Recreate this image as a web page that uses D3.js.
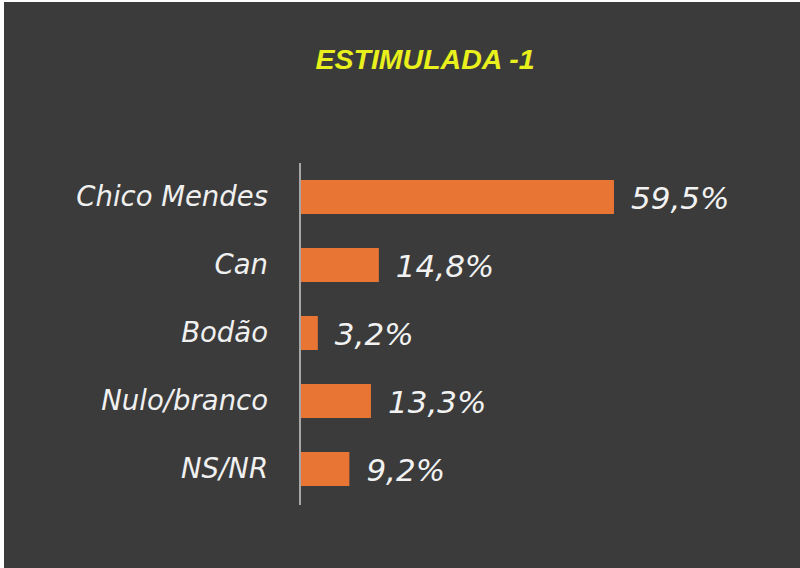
<!DOCTYPE html>
<html>
<head>
<meta charset="utf-8">
<script src="https://cdn.jsdelivr.net/npm/d3@7"></script>
<style>
  html, body { margin: 0; padding: 0; background: #ffffff; }
  svg { display: block; }
</style>
</head>
<body>
<script>
const categories = ["Chico Mendes", "Can", "Bodão", "Nulo/branco", "NS/NR"];
const values = [59.5, 14.8, 3.2, 13.3, 9.2];
const valueLabels = ["59,5%", "14,8%", "3,2%", "13,3%", "9,2%"];

const w = 800;
const h = 568;

const svg = d3.select("body")
    .append("svg")
    .attr("width", w)
    .attr("height", h);

// panel, with the thin light edge on top and left
svg.append("rect")
    .attr("x", 4).attr("y", 2)
    .attr("width", w - 4).attr("height", h - 2)
    .attr("fill", "#3b3b3b");

svg.append("text")
    .attr("x", 425)
    .attr("y", 69)
    .attr("text-anchor", "middle")
    .attr("fill", "#e9f01c")
    .style("font-family", "'Liberation Sans', Arial, sans-serif")
    .style("font-weight", "bold")
    .style("font-style", "italic")
    .style("font-size", "28.5px")
    .text("ESTIMULADA -1");

const xScale = d3.scaleLinear()
    .domain([0, 100])
    .range([301, 827]);

const yScale = d3.scaleBand()
    .domain(categories)
    .range([163, 503])
    .paddingInner(0.5)
    .paddingOuter(0.25);

const data = categories.map((c, i) => ({ name: c, value: values[i], label: valueLabels[i] }));

svg.selectAll("rect.bar")
    .data(data)
    .enter()
    .append("rect")
    .attr("class", "bar")
    .attr("x", xScale(0))
    .attr("y", d => yScale(d.name))
    .attr("width", d => xScale(d.value) - xScale(0))
    .attr("height", yScale.bandwidth())
    .attr("fill", "#e97534");

// category axis line
svg.append("line")
    .attr("x1", 300).attr("x2", 300)
    .attr("y1", 163).attr("y2", 505)
    .attr("stroke", "#a6a6a6")
    .attr("stroke-width", 2);

svg.selectAll("text.cat")
    .data(data)
    .enter()
    .append("text")
    .attr("class", "cat")
    .attr("x", 268)
    .attr("y", d => yScale(d.name) + yScale.bandwidth() / 2)
    .attr("dy", "0.33em")
    .attr("text-anchor", "end")
    .attr("fill", "#f0f0f0")
    .style("font-family", "'DejaVu Sans', sans-serif")
    .style("font-style", "italic")
    .style("font-size", "27.5px")
    .text(d => d.name);

svg.selectAll("text.val")
    .data(data)
    .enter()
    .append("text")
    .attr("class", "val")
    .attr("x", d => xScale(d.value) + 17)
    .attr("y", d => yScale(d.name) + yScale.bandwidth() / 2)
    .attr("dy", "0.4em")
    .attr("fill", "#f2f2f2")
    .style("font-family", "'DejaVu Sans', sans-serif")
    .style("font-style", "italic")
    .style("font-size", "31px")
    .text(d => d.label);
</script>
</body>
</html>
